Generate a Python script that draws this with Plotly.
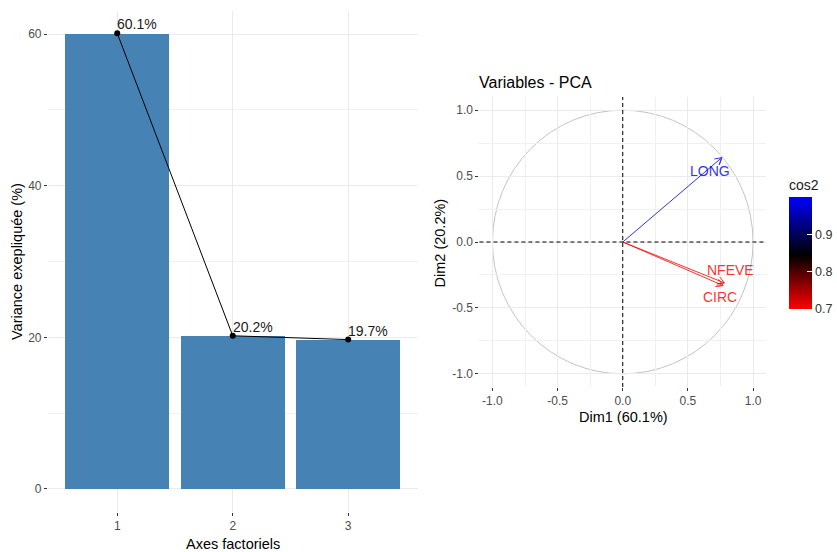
import numpy as np
import plotly.graph_objects as go
from plotly.colors import sample_colorscale

# ---------------- data ----------------
axes_labels = ["1", "2", "3"]
axes_num = [1, 2, 3]
variance_pct = [60.1, 20.2, 19.7]

var_names = ["LONG", "NFEVE", "CIRC"]
dim1 = [0.76, 0.78, 0.77]
dim2 = [0.64, -0.31, -0.33]
label_x = [0.67, 0.83, 0.75]
label_y = [0.54, -0.21, -0.42]

cos2 = [a * a + b * b for a, b in zip(dim1, dim2)]
cos2_ticks = [0.7, 0.8, 0.9]
cmin, cmax = 0.7, 1.0
cscale = [[0.0, "#FF0000"], [0.48, "#000000"], [1.0, "#0000FF"]]

FONT = "Liberation Sans, Arial, sans-serif"
GRID = "#EBEBEB"
TICKC = "#4D4D4D"

fig = go.Figure()

# ---------------- left: scree plot ----------------
fig.add_trace(go.Bar(x=axes_num, y=variance_pct, width=0.9,
                     marker=dict(color="#4682B4", line=dict(width=0)),
                     xaxis="x", yaxis="y", showlegend=False))
fig.add_trace(go.Scatter(x=axes_num, y=variance_pct, mode="lines+markers",
                         line=dict(color="black", width=1),
                         marker=dict(color="black", size=6),
                         xaxis="x", yaxis="y", showlegend=False))

annotations = []
for xv, yv in zip(axes_num, variance_pct):
    annotations.append(dict(x=xv, y=yv, xref="x", yref="y", text=f"{yv}%",
                            showarrow=False, xanchor="left", yanchor="bottom",
                            xshift=-2, yshift=-1,
                            font=dict(family=FONT, size=14, color="#1A1A1A")))

# ---------------- right: PCA correlation circle ----------------
arrow_colors = sample_colorscale(cscale, [(c - cmin) / (cmax - cmin) for c in cos2])
head_len = 0.058
ang = np.deg2rad(30)


def rot(v, a):
    return np.array([v[0] * np.cos(a) - v[1] * np.sin(a),
                     v[0] * np.sin(a) + v[1] * np.cos(a)])


for name, x, y, c, lx, ly in zip(var_names, dim1, dim2, arrow_colors, label_x, label_y):
    d = np.array([x, y]) / np.hypot(x, y)
    w1 = np.array([x, y]) - head_len * rot(d, ang)
    w2 = np.array([x, y]) - head_len * rot(d, -ang)
    fig.add_trace(go.Scatter(x=[0, x, w1[0], x, w2[0]], y=[0, y, w1[1], y, w2[1]],
                             mode="lines", line=dict(color=c, width=1),
                             opacity=0.8,
                             xaxis="x2", yaxis="y2", showlegend=False,
                             hoverinfo="skip"))
    annotations.append(dict(x=lx, y=ly, xref="x2", yref="y2", text=name,
                            showarrow=False, xanchor="center", yanchor="middle",
                            opacity=0.8,
                            font=dict(family=FONT, size=14, color=c)))

# colourbar carrier
fig.add_trace(go.Scatter(x=[None], y=[None], mode="markers", xaxis="x2", yaxis="y2",
                         showlegend=False,
                         marker=dict(color=cos2, colorscale=cscale, cmin=cmin, cmax=cmax,
                                     showscale=True,
                                     colorbar=dict(
                                         title=dict(text="cos2", side="top",
                                                    font=dict(family=FONT, size=14, color="#1A1A1A")),
                                         x=789 / 837, xanchor="left",
                                         y=(552 - 242.5) / 552, yanchor="middle",
                                         thickness=23, thicknessmode="pixels",
                                         len=133, lenmode="pixels",
                                         tickvals=cos2_ticks, ticktext=[str(t) for t in cos2_ticks],
                                         ticks="inside", ticklen=5, tickcolor="white",
                                         outlinewidth=0, xpad=0, ypad=0,
                                         tickfont=dict(family=FONT, size=12.5, color="#333333")))))

shapes = [
    dict(type="circle", xref="x2", yref="y2", x0=-1, y0=-1, x1=1, y1=1,
         line=dict(color="#C4C4C4", width=1), layer="below"),
    dict(type="line", xref="x2 domain", yref="y2", x0=0, x1=1, y0=0, y1=0,
         line=dict(color="black", width=1, dash="4px,3px")),
    dict(type="line", xref="x2", yref="y2 domain", x0=0, x1=0, y0=0, y1=1,
         line=dict(color="black", width=1, dash="4px,3px")),
]

# titles as annotations
annotations += [
    dict(text="Variance exepliquée (%)", x=17 / 837, y=(552 - 261) / 552, xref="paper", yref="paper",
         textangle=-90, showarrow=False, xanchor="center", yanchor="middle",
         font=dict(family=FONT, size=14.5, color="black")),
    dict(text="Axes factoriels", x=233 / 837, y=(552 - 544) / 552, xref="paper", yref="paper",
         showarrow=False, xanchor="center", yanchor="middle",
         font=dict(family=FONT, size=14.5, color="black")),
    dict(text="Variables - PCA", x=478 / 837, y=(552 - 82) / 552, xref="paper", yref="paper",
         showarrow=False, xanchor="left", yanchor="middle",
         font=dict(family=FONT, size=16, color="black")),
    dict(text="Dim1 (60.1%)", x=624 / 837, y=(552 - 417) / 552, xref="paper", yref="paper",
         showarrow=False, xanchor="center", yanchor="middle",
         font=dict(family=FONT, size=14.5, color="black")),
    dict(text="Dim2 (20.2%)", x=441 / 837, y=(552 - 243) / 552, xref="paper", yref="paper",
         textangle=-90, showarrow=False, xanchor="center", yanchor="middle",
         font=dict(family=FONT, size=14.5, color="black")),
]

axis_common = dict(showline=False, zeroline=False, ticks="outside", ticklen=3,
                   tickcolor="#333333", gridcolor=GRID, gridwidth=1,
                   tickfont=dict(family=FONT, size=12, color=TICKC))

fig.update_layout(
    width=837, height=552, margin=dict(l=0, r=0, t=0, b=0),
    paper_bgcolor="white", plot_bgcolor="white",
    bargap=0, showlegend=False,
    xaxis=dict(domain=[48 / 837, 418 / 837], range=[0.4, 3.6],
               tickvals=axes_num, ticktext=axes_labels, anchor="y", **axis_common),
    yaxis=dict(domain=[(552 - 511.7) / 552, (552 - 10.5) / 552], range=[-3.0, 63.1],
               tickvals=[0, 20, 40, 60], anchor="x",
               minor=dict(tickvals=[10, 30, 50], showgrid=True, gridcolor="#F1F1F1", gridwidth=1,
                          ticks=""),
               **axis_common),
    xaxis2=dict(domain=[480 / 837, 767 / 837], range=[-1.1, 1.1],
                tickvals=[-1, -0.5, 0, 0.5, 1], ticktext=["-1.0", "-0.5", "0.0", "0.5", "1.0"],
                anchor="y2",
                minor=dict(tickvals=[-0.75, -0.25, 0.25, 0.75], showgrid=True,
                           gridcolor="#F1F1F1", gridwidth=1, ticks=""),
                **axis_common),
    yaxis2=dict(domain=[(552 - 387) / 552, (552 - 97) / 552], range=[-1.1, 1.1],
                tickvals=[-1, -0.5, 0, 0.5, 1], ticktext=["-1.0", "-0.5", "0.0", "0.5", "1.0"],
                anchor="x2",
                minor=dict(tickvals=[-0.75, -0.25, 0.25, 0.75], showgrid=True,
                           gridcolor="#F1F1F1", gridwidth=1, ticks=""),
                **axis_common),
    shapes=shapes, annotations=annotations,
)

fig.write_html("out.html", include_plotlyjs=True, config={"displayModeBar": False},
               post_script="document.body.style.margin='0px';document.body.style.overflow='hidden';")
